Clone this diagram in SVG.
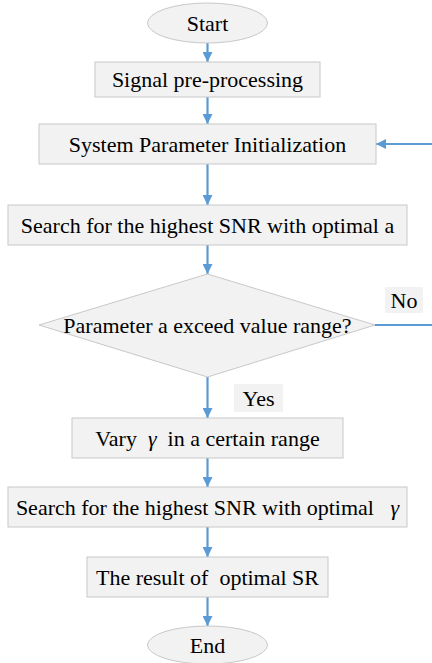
<svg xmlns="http://www.w3.org/2000/svg" width="432" height="663" viewBox="0 0 432 663">
<style>
.n{fill:#F2F2F2;stroke:#C8C8C8;stroke-width:1}
.c{stroke:#5B9BD5;stroke-width:2.2;fill:none}
.lb{fill:#F2F2F2}
</style>
<defs>
<marker id="ah" viewBox="0 0 10 10" refX="10" refY="5" markerWidth="10" markerHeight="10" markerUnits="userSpaceOnUse" orient="auto">
<path d="M0,0 L10,5 L0,10 Z" fill="#5B9BD5"/>
</marker>
</defs>
<rect width="432" height="663" fill="#fff"/>
<g id="connectors">
<line class="c" x1="207.5" y1="43" x2="207.5" y2="62" marker-end="url(#ah)"/>
<line class="c" x1="207.5" y1="97" x2="207.5" y2="124" marker-end="url(#ah)"/>
<line class="c" x1="207.5" y1="164" x2="207.5" y2="205" marker-end="url(#ah)"/>
<line class="c" x1="207.5" y1="245" x2="207.5" y2="274" marker-end="url(#ah)"/>
<line class="c" x1="207.5" y1="377" x2="207.5" y2="418" marker-end="url(#ah)"/>
<line class="c" x1="207.5" y1="458" x2="207.5" y2="487" marker-end="url(#ah)"/>
<line class="c" x1="207.5" y1="527" x2="207.5" y2="557" marker-end="url(#ah)"/>
<line class="c" x1="207.5" y1="597" x2="207.5" y2="626" marker-end="url(#ah)"/>
<line class="c" x1="375" y1="325" x2="432" y2="325"/>
<line class="c" x1="432" y1="144" x2="376" y2="144" marker-end="url(#ah)"/>
<rect class="lb" x="385" y="287" width="38" height="26"/>
<text x="404" y="308" font-family="Liberation Serif" font-size="22" text-anchor="middle">No</text>
<rect class="lb" x="234" y="384" width="49" height="28"/>
<text x="258.5" y="406" font-family="Liberation Serif" font-size="22" text-anchor="middle">Yes</text>
</g>
<g id="start">
<ellipse class="n" cx="207.5" cy="23" rx="60" ry="20"/>
<text x="207.5" y="31" font-family="Liberation Serif" font-size="22" text-anchor="middle">Start</text>
</g>
<g id="preprocess">
<rect class="n" x="95" y="62" width="225" height="35"/>
<text x="207.5" y="87" font-family="Liberation Serif" font-size="22" text-anchor="middle">Signal pre-processing</text>
</g>
<g id="init">
<rect class="n" x="39" y="124" width="337" height="40"/>
<text x="207.5" y="152" font-family="Liberation Serif" font-size="22" text-anchor="middle">System Parameter Initialization</text>
</g>
<g id="search-a">
<rect class="n" x="8" y="205" width="399" height="40"/>
<text x="207.5" y="233" font-family="Liberation Serif" font-size="22" text-anchor="middle">Search for the highest SNR with optimal a</text>
</g>
<g id="decision">
<polygon class="n" points="207.5,274 375,325 207.5,377 39,325"/>
<text x="207.5" y="333" font-family="Liberation Serif" font-size="22" text-anchor="middle">Parameter a exceed value range?</text>
</g>
<g id="vary">
<rect class="n" x="72" y="418" width="271" height="40"/>
<text x="207.5" y="446" font-family="Liberation Serif" font-size="22" text-anchor="middle" xml:space="preserve">Vary  <tspan font-style="italic">γ</tspan>  in a certain range</text>
</g>
<g id="search-g">
<rect class="n" x="8" y="487" width="399" height="40"/>
<text x="207.5" y="515" font-family="Liberation Serif" font-size="22" text-anchor="middle" xml:space="preserve">Search for the highest SNR with optimal   <tspan font-style="italic">γ</tspan></text>
</g>
<g id="result">
<rect class="n" x="87" y="557" width="241" height="40"/>
<text x="207.5" y="585" font-family="Liberation Serif" font-size="22" text-anchor="middle" xml:space="preserve">The result of  optimal SR</text>
</g>
<g id="end">
<ellipse class="n" cx="207.5" cy="645" rx="60" ry="19"/>
<text x="207.5" y="653" font-family="Liberation Serif" font-size="22" text-anchor="middle">End</text>
</g>
</svg>
